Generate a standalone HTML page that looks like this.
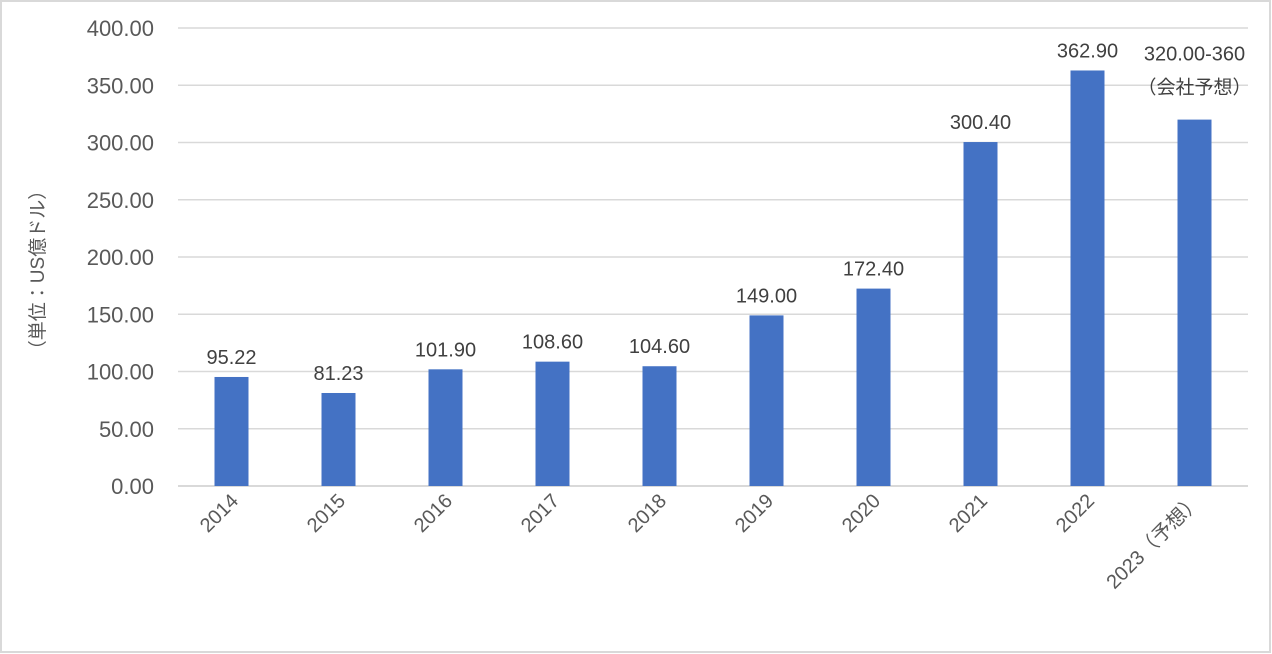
<!DOCTYPE html>
<html><head><meta charset="utf-8"><style>
body{margin:0;background:#fff}
svg{display:block;font-family:"Liberation Sans","Noto Sans CJK JP",sans-serif}
</style></head><body>
<svg width="1272" height="654" viewBox="0 0 1272 654">
<rect x="1" y="1" width="1269" height="651" fill="#fff" stroke="#d9d9d9" stroke-width="2"/>
<g id="grid"></g><g id="bars"></g><g id="labels"></g><g id="xt"></g><g id="yt"></g>
<text transform="translate(44,270) rotate(-90)" text-anchor="middle" font-size="19" fill="#595959">（単位：US億ドル）</text>
</svg>
<script>
const categories=["2014","2015","2016","2017","2018","2019","2020","2021","2022","2023（予想）"];
const values=[95.22,81.23,101.90,108.60,104.60,149.00,172.40,300.40,362.90,320.00];
const valueLabels=["95.22","81.23","101.90","108.60","104.60","149.00","172.40","300.40","362.90","320.00-360"];
const yTicks=[0,50,100,150,200,250,300,350,400];
const NS="http://www.w3.org/2000/svg";
const plotLeft=178,plotRight=1248,plotTop=28,plotBottom=486,yMaxVal=400;
const yScale=v=>plotBottom-(v/yMaxVal)*(plotBottom-plotTop);
const bandW=(plotRight-plotLeft)/categories.length;
const xCenter=i=>plotLeft+bandW*(i+0.5);
function mk(t,a,p){const e=document.createElementNS(NS,t);for(const k in a)e.setAttribute(k,a[k]);document.getElementById(p).appendChild(e);return e;}
yTicks.forEach(v=>{
 const l=mk("line",{x1:plotLeft,x2:plotRight,y1:yScale(v),y2:yScale(v),stroke:"#d9d9d9","stroke-width":v===0?2:1.5},"grid");
 
 
 const t=mk("text",{x:154,y:yScale(v)+8,"text-anchor":"end","font-size":22,fill:"#595959"},"yt");
 t.textContent=v.toFixed(2);
 
 
});
categories.forEach((c,i)=>{
 const b=mk("rect",{x:xCenter(i)-17,y:yScale(values[i]),width:34,height:plotBottom-yScale(values[i]),fill:"#4472c4"},"bars");
 
 
 const lab=valueLabels[i];
 if(i===categories.length-1){
  const t1=mk("text",{x:xCenter(i),y:yScale(values[i])-59,"text-anchor":"middle","font-size":20,fill:"#404040"},"labels");
  t1.textContent=lab;
  
  
  const t2=mk("text",{x:xCenter(i),y:yScale(values[i])-26,"text-anchor":"middle","font-size":19,fill:"#404040"},"labels");
  t2.textContent="（会社予想）";
  
  
 } else {
  const t=mk("text",{x:xCenter(i),y:yScale(values[i])-13,"text-anchor":"middle","font-size":20,fill:"#404040"},"labels");
  t.textContent=lab;
  
  
 }
 const xt=mk("text",{transform:`translate(${xCenter(i)+8},${plotBottom+16}) rotate(-45)`,"text-anchor":"end","font-size":20,fill:"#595959"},"xt");
 xt.textContent=c;
 
 
});
</script>
</body></html>
